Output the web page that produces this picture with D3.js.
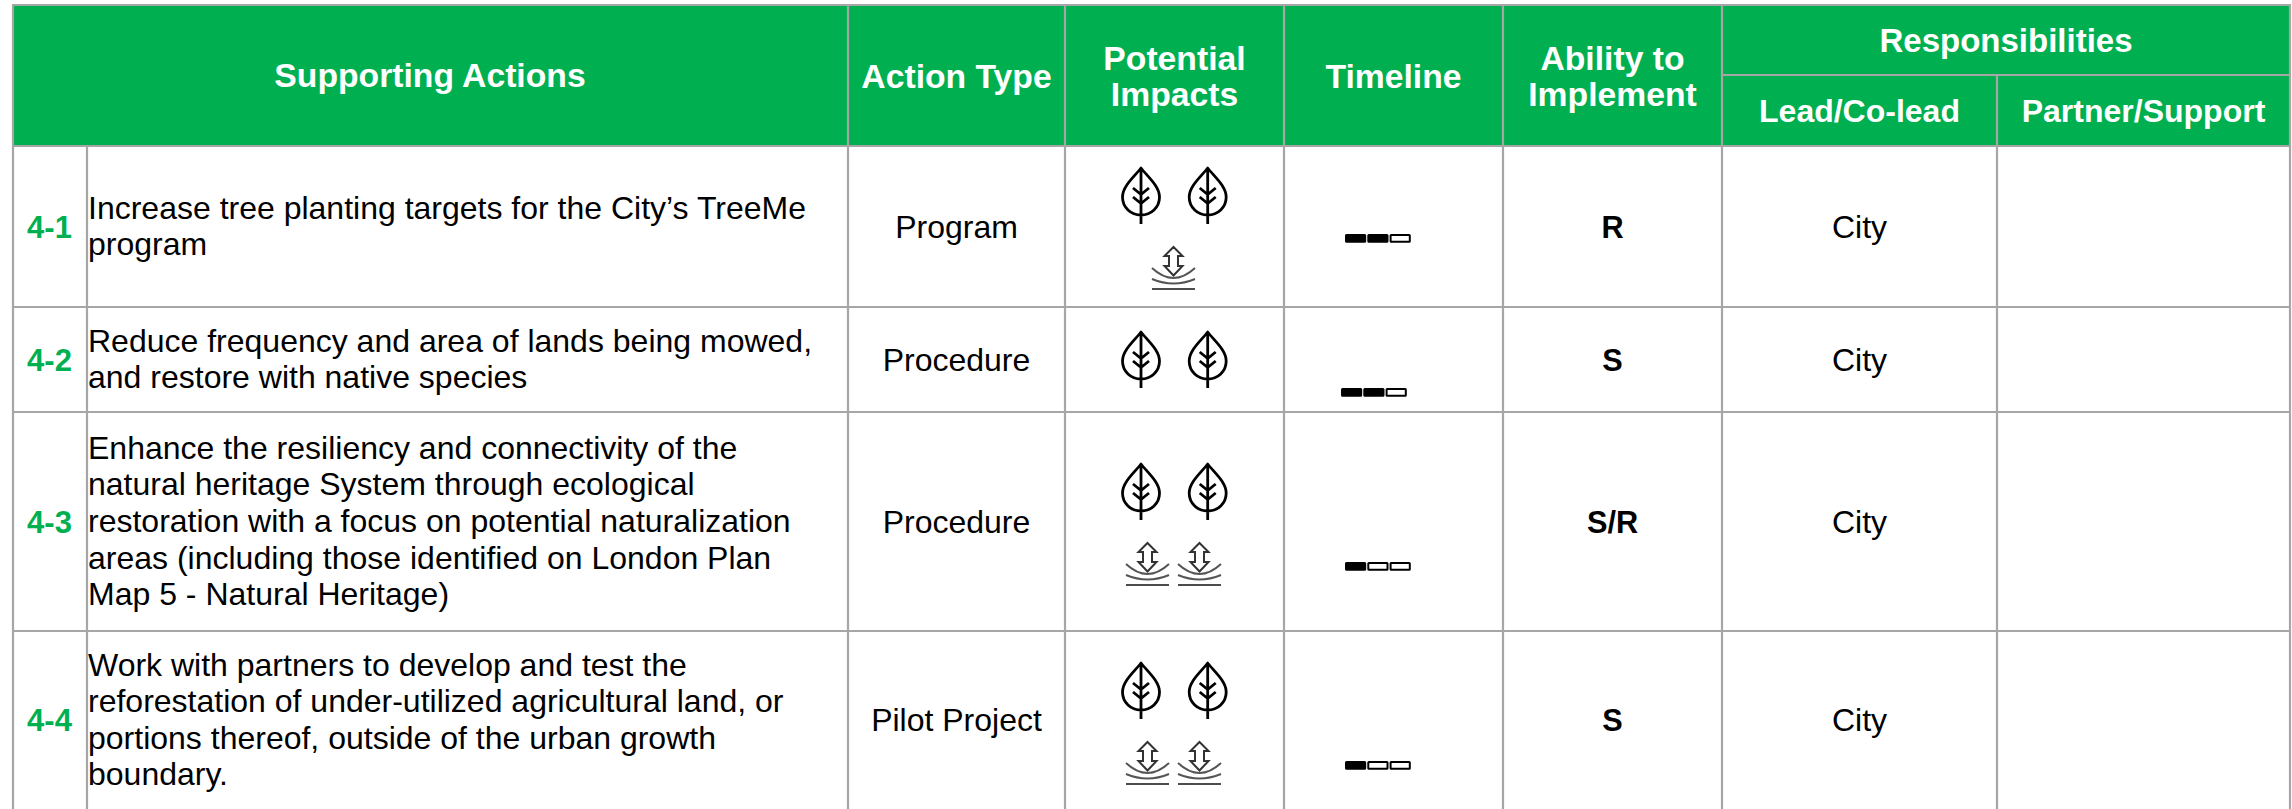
<!DOCTYPE html>
<html><head><meta charset="utf-8">
<script src="https://cdnjs.cloudflare.com/ajax/libs/d3/7.8.5/d3.min.js"></script>
<style>html,body{margin:0;padding:0;background:#fff;overflow:hidden}svg{display:block}text{font-family:"Liberation Sans",Arial,sans-serif}</style>
</head><body><svg id="c" width="2292" height="809"></svg>
<script>
// ---- data ----
const ids = ["4-1","4-2","4-3","4-4"];
const actions = [
 ["Increase tree planting targets for the City’s TreeMe","program"],
 ["Reduce frequency and area of lands being mowed,","and restore with native species"],
 ["Enhance the resiliency and connectivity of the","natural heritage System through ecological","restoration with a focus on potential naturalization","areas (including those identified on London Plan","Map 5 - Natural Heritage)"],
 ["Work with partners to develop and test the","reforestation of under-utilized agricultural land, or","portions thereof, outside of the urban growth","boundary."]
];
const actionTypes = ["Program","Procedure","Procedure","Pilot Project"];
const leafCounts = [2,2,2,2];
const waterCounts = [1,0,2,2];
const timelineFilled = [2,2,1,1];
const ability = ["R","S","S/R","S"];
const lead = ["City","City","City","City"];
const partner = ["","","",""];
const headers = [
 {key:"type",lines:["Action Type"]},
 {key:"impacts",lines:["Potential","Impacts"]},
 {key:"timeline",lines:["Timeline"]},
 {key:"ability",lines:["Ability to","Implement"]}
];
// ---- layout ----
const green="#00B050", rule="#A6A6A6";
const W=2292,H=809;
const colKeys=["num","action","type","impacts","timeline","ability","lead","partner"];
const colEdges=[13,87,848,1065,1284,1503,1722,1997,2290];
const rowEdges=[146,307,412,631,809];
const x=d3.scaleOrdinal(colKeys,colEdges.slice(0,-1));
const xEnd=d3.scaleOrdinal(colKeys,colEdges.slice(1));
const xc=k=>(x(k)+xEnd(k))/2;
const yTop=d3.scaleOrdinal(ids,rowEdges.slice(0,-1));
const yBot=d3.scaleOrdinal(ids,rowEdges.slice(1));
const yc=i=>(yTop(i)+yBot(i))/2;
const svg=d3.select("#c");

// header
svg.append("rect").attr("x",13).attr("y",6).attr("width",2277).attr("height",140).attr("fill",green);
const hdr=svg.append("g").attr("fill","#fff").attr("font-weight","700").attr("text-anchor","middle").attr("font-size",33.7);
hdr.append("text").attr("x",430).attr("y",87).text("Supporting Actions");
headers.forEach(h=>{
  h.lines.forEach((l,j)=>{
    const y=h.lines.length===1?88:70+j*36;
    hdr.append("text").attr("x",xc(h.key)).attr("y",y).text(l);
  });
});
hdr.append("text").attr("x",(1722+2290)/2).attr("y",52).attr("font-size",33).text("Responsibilities");
hdr.append("text").attr("x",xc("lead")).attr("y",122).attr("font-size",32).text("Lead/Co-lead");
hdr.append("text").attr("x",xc("partner")).attr("y",122).attr("font-size",32).text("Partner/Support");

// rules
const rules=svg.append("g").attr("stroke",rule).attr("stroke-width",2.2).attr("fill","none");
const seg=(a,b,c,d)=>rules.append("line").attr("x1",a).attr("y1",b).attr("x2",c).attr("y2",d);
seg(12,5,2291,5);
seg(1722,75,2290,75);
[146,307,412,631].forEach(y=>seg(12,y,2291,y));
seg(13,5,13,809); seg(2290,5,2290,809);
seg(87,146,87,809);
[848,1065,1284,1503,1722].forEach(v=>seg(v,5,v,809));
seg(1997,75,1997,809);

// rows
const rows=svg.selectAll("g.row").data(ids).join("g").attr("class","row");
const bodyCol=(k,vals,weight)=>rows.append("text").attr("x",xc(k)).attr("y",d=>yc(d)+11)
  .attr("text-anchor","middle").attr("font-size",weight?30.7:32).attr("font-weight",weight||400).attr("fill","#000")
  .text((d,i)=>vals[i]);
rows.append("text").attr("x",49.5).attr("y",d=>yc(d)+11).attr("text-anchor","middle").attr("font-size",31).attr("font-weight",700).attr("fill",green).text(d=>d);
rows.each(function(d,i){
  const n=actions[i].length, lh=36.6;
  d3.select(this).selectAll("text.a").data(actions[i]).join("text").attr("class","a")
    .attr("x",88).attr("y",(l,j)=>yc(d)+10.5+(j-(n-1)/2)*lh)
    .attr("font-size",32).attr("fill","#000").text(l=>l);
});
bodyCol("type",actionTypes);
bodyCol("ability",ability,700);
bodyCol("lead",lead);
bodyCol("partner",partner);

// icons
const leafPath="M0,0C6,8 18.5,18 18.5,29C18.5,39.5 10,47 0,47C-10,47 -18.5,39.5 -18.5,29C-18.5,18 -6,8 0,0Z M0,0V56 M-8,20L0,26.5L8,20 M-8,29L0,35.5L8,29";
const arrowPath="M21.5,1L30.5,10H26V20H30.5L21.5,29.5L12.5,20H17V10H12.5Z";
const waterCurves=["M0,22Q21.5,42 43,22","M0,33Q21.5,42 43,33"];
const leafX=[1141,1207.7];
const leafY=[168,332,464,663];
const waterRow=[[1152],[],[1126,1178],[1126,1178]];
const waterY=[246,0,542,741];
const tlX=[1345,1341,1345,1345];
const tlY=[234,388,562,761];
rows.each(function(d,i){
  const g=d3.select(this);
  g.selectAll("path.leaf").data(d3.range(leafCounts[i])).join("path").attr("class","leaf")
    .attr("transform",k=>`translate(${leafX[k]},${leafY[i]})`)
    .attr("d",leafPath).attr("fill","none").attr("stroke","#000").attr("stroke-width",2.8).attr("stroke-linejoin","round");
  const w=g.selectAll("g.water").data(d3.range(waterCounts[i])).join("g").attr("class","water")
    .attr("transform",k=>`translate(${waterRow[i][k]},${waterY[i]})`);
  w.append("path").attr("d",arrowPath).attr("fill","#fff").attr("stroke","#333").attr("stroke-width",2);
  w.selectAll("path.c").data(waterCurves).join("path").attr("class","c").attr("d",c=>c).attr("fill","none").attr("stroke","#555").attr("stroke-width",2);
  w.append("line").attr("x1",0).attr("x2",43).attr("y1",43).attr("y2",43).attr("stroke","#111").attr("stroke-width",1.6);
  g.selectAll("rect.tl").data(d3.range(3)).join("rect").attr("class","tl")
    .attr("x",k=>tlX[i]+k*22.3+1).attr("y",tlY[i]+1).attr("width",19.2).attr("height",6.8).attr("rx",.5)
    .attr("fill",k=>k<timelineFilled[i]?"#000":"#fff").attr("stroke","#000").attr("stroke-width",2);
});
</script></body></html>
